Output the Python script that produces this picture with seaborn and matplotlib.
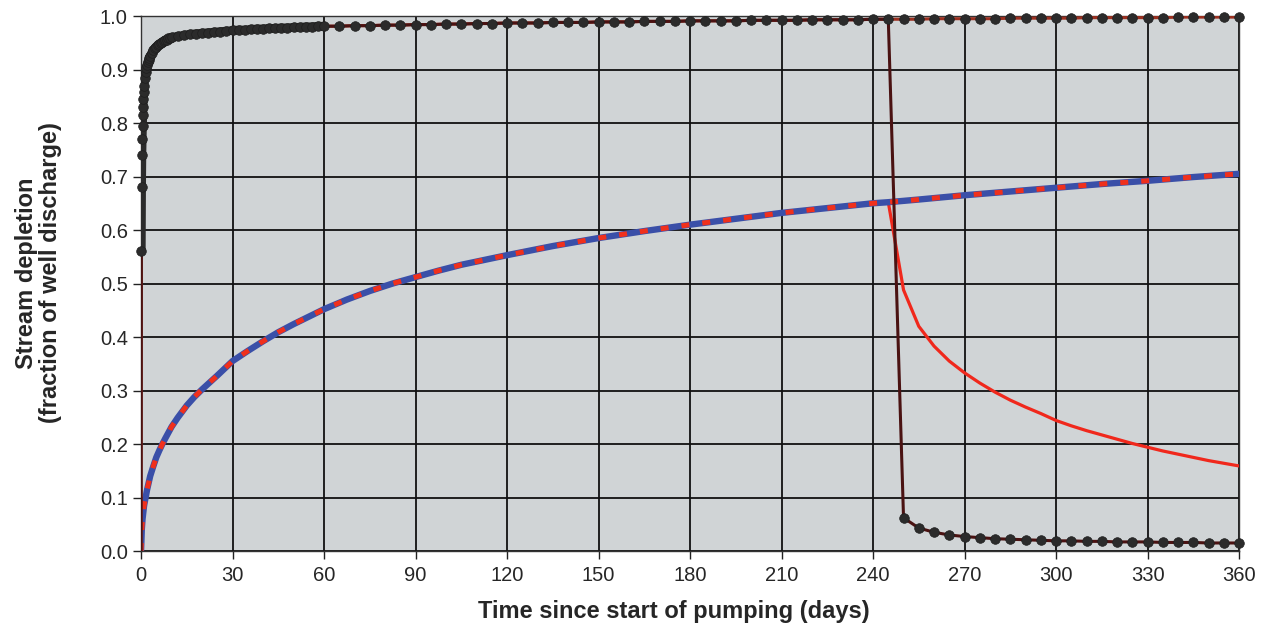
import matplotlib
matplotlib.use("Agg")
import matplotlib.pyplot as plt
import seaborn as sns

# --- data (days, fraction of well discharge) ---

# well close to the stream: early, densely sampled part (0-60 days)
near_t_early = [0, 0.1, 0.2, 0.3, 0.4, 0.5, 0.6, 0.7, 0.8, 0.9, 1.0,
                1.25, 1.5, 1.75, 2.0, 2.25, 2.5, 2.75, 3.0,
                3.5, 4.0, 4.5, 5.0, 5.5, 6.0, 6.5, 7.0, 7.5, 8.0, 8.5, 9.0, 9.5, 10,
                12, 14, 16, 18, 20, 22, 24, 26, 28, 30, 32, 34, 36, 38, 40,
                42, 44, 46, 48, 50, 52, 54, 56, 58, 60]
near_v_early = [0.0, 0.56, 0.68, 0.74, 0.77, 0.795, 0.815, 0.83, 0.845, 0.858, 0.87,
                0.885, 0.895, 0.903, 0.909, 0.914, 0.918, 0.922, 0.925,
                0.931, 0.936, 0.94, 0.943, 0.946, 0.948, 0.95, 0.952, 0.954, 0.955, 0.956, 0.958, 0.959, 0.96,
                0.962, 0.964, 0.966, 0.967, 0.968, 0.969, 0.97, 0.971, 0.972, 0.973, 0.974, 0.974, 0.975, 0.976, 0.976,
                0.977, 0.977, 0.978, 0.978, 0.979, 0.979, 0.98, 0.98, 0.981, 0.981]

# well close to the stream, continuous pumping: every 5 days after day 60
near_t_late = list(range(65, 365, 5))
near_v_late = [0.981, 0.982, 0.982, 0.983, 0.983, 0.984, 0.984, 0.985, 0.985, 0.986,
               0.986, 0.987, 0.987, 0.987, 0.988, 0.988, 0.988, 0.989, 0.989, 0.989,
               0.990, 0.990, 0.990, 0.991, 0.991, 0.991, 0.991, 0.992, 0.992, 0.992,
               0.992, 0.993, 0.993, 0.993, 0.993, 0.994, 0.994, 0.994, 0.994, 0.995,
               0.995, 0.995, 0.995, 0.995, 0.996, 0.996, 0.996, 0.996, 0.996, 0.997,
               0.997, 0.997, 0.997, 0.997, 0.997, 0.998, 0.998, 0.998, 0.998, 0.998]

# recovery after pumping stops on day 245
stop_day = 245
recovery_t = list(range(250, 365, 5))
near_v_recovery = [0.062, 0.043, 0.035, 0.030, 0.027, 0.025, 0.023, 0.022, 0.021, 0.020,
                   0.019, 0.019, 0.018, 0.018, 0.017, 0.017, 0.017, 0.016, 0.016, 0.016,
                   0.015, 0.015, 0.015]

# well far from the stream, continuous pumping
far_t = [0, 0.25, 0.5, 1, 1.5, 2, 3, 4, 5, 6, 7, 8, 10, 12, 15, 17.5, 20, 25, 30, 35,
         40, 45, 50, 55, 60, 67.5, 75, 82.5, 90, 97.5, 105, 112.5, 120, 135, 150, 165,
         180, 195, 210, 225, 240, 245, 255, 270, 285, 300, 315, 330, 345, 360]
far_v = [0.0, 0.04, 0.06, 0.085, 0.1, 0.115, 0.14, 0.158, 0.175, 0.188, 0.2, 0.211,
         0.232, 0.249, 0.272, 0.288, 0.302, 0.328, 0.355, 0.374, 0.392, 0.409, 0.424,
         0.438, 0.452, 0.47, 0.486, 0.5, 0.512, 0.524, 0.535, 0.544, 0.553, 0.57,
         0.585, 0.598, 0.61, 0.621, 0.632, 0.641, 0.65, 0.652, 0.657, 0.665, 0.672,
         0.679, 0.686, 0.692, 0.699, 0.705]
far_v_recovery = [0.488, 0.42, 0.383, 0.355, 0.333, 0.314, 0.297, 0.282, 0.269, 0.257,
                  0.244, 0.234, 0.225, 0.217, 0.209, 0.201, 0.194, 0.187, 0.181, 0.175,
                  0.169, 0.164, 0.159]

x_ticks = list(range(0, 390, 30))
y_ticks = [i / 10 for i in range(11)]

# --- build the series ---
near_t = near_t_early + near_t_late
near_v = near_v_early + near_v_late
n_pump = sum(1 for t in near_t if t <= stop_day)
near_stop_t = near_t[:n_pump] + recovery_t
near_stop_v = near_v[:n_pump] + near_v_recovery

f_pump = sum(1 for t in far_t if t <= stop_day)
far_stop_t = far_t[:f_pump] + recovery_t
far_stop_v = far_v[:f_pump] + far_v_recovery

# --- style ---
sns.set_style("white", {"axes.facecolor": "#d0d4d6"})
plt.rcParams["font.family"] = ["Liberation Sans", "DejaVu Sans"]

fig = plt.figure(figsize=(12.66, 6.26), dpi=100)
ax = fig.add_axes([0.1114, 0.1198, 0.9787 - 0.1114, 0.9744 - 0.1198])

line_kws = dict(estimator=None, sort=False, ax=ax)

# far well, pumping stopped (red, mostly hidden under the blue until day 245)
sns.lineplot(x=far_stop_t, y=far_stop_v, color="#f0281c", lw=2.3, zorder=3, **line_kws)
# far well, continuous pumping (blue with red dashes on top)
sns.lineplot(x=far_t, y=far_v, color="#3a4fa8", lw=4.6, zorder=4, **line_kws)
sns.lineplot(x=far_t, y=far_v, color="#f0301c", lw=3.6, ls=(0, (1.6, 2.6)), zorder=5, **line_kws)

# near well, continuous and stopped (brown lines)
sns.lineplot(x=near_t, y=near_v, color="#9c3020", lw=2.2, zorder=6, **line_kws)
sns.lineplot(x=near_stop_t, y=near_stop_v, color="#4a1212", lw=2.2, zorder=6, **line_kws)

# dense early record reads as a thick dark band of overlapping dots
sns.lineplot(x=near_t_early[1:], y=near_v_early[1:], color="#2b2b2b", lw=6.2,
             solid_capstyle="round", zorder=7, **line_kws)

# black dots for the near-well series
mk = dict(s=48, color="#2b2b2b", edgecolor="#1e1e1e", linewidth=0.5, zorder=8,
          clip_on=False, ax=ax, legend=False)
sns.scatterplot(x=near_t[1:], y=near_v[1:], **mk)
sns.scatterplot(x=recovery_t, y=near_v_recovery, **mk)

# --- axes ---
ax.set_xlim(0, 360)
ax.set_ylim(0, 1.0)
ax.set_xticks(x_ticks)
ax.set_yticks(y_ticks)
ax.set_yticklabels([f"{v:.1f}" for v in y_ticks])
ax.grid(True, color="#111111", lw=1.3)
ax.set_axisbelow(True)
ax.tick_params(axis="both", labelsize=14.5, length=6, width=1, color="#222222",
               direction="out", bottom=True, left=True)
ax.tick_params(axis="x", pad=5)
for side in ["left", "bottom", "top", "right"]:
    ax.spines[side].set_color("#333333")
    ax.spines[side].set_linewidth(1)

ax.set_xlabel("Time since start of pumping (days)", fontsize=17, fontweight="bold")
ax.set_ylabel("Stream depletion\n(fraction of well discharge)", fontsize=17,
              fontweight="bold", linespacing=1.05)
ax.xaxis.set_label_coords(0.485, -0.091)
ax.yaxis.set_label_coords(-0.072, 0.52)

fig.savefig("out.png", dpi=100, facecolor="white")
